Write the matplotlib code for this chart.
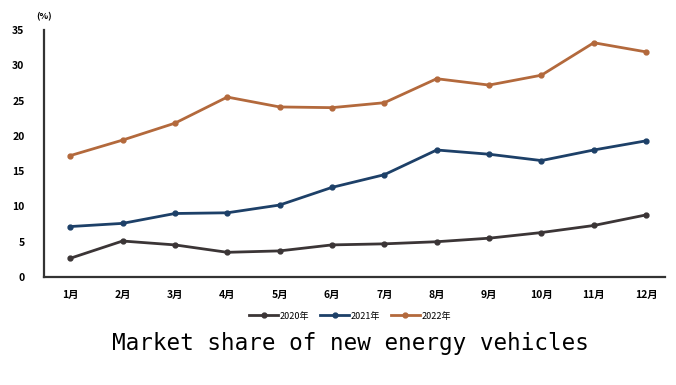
import matplotlib
matplotlib.use("Agg")
import matplotlib.pyplot as plt

plt.rcParams['font.family'] = ['Noto Sans CJK SC', 'DejaVu Sans']

#%% data
months = ["1月", "2月", "3月", "4月", "5月", "6月", "7月", "8月", "9月", "10月", "11月", "12月"]
share_2020 = [2.65, 5.1, 4.55, 3.5, 3.7, 4.55, 4.7, 5.0, 5.5, 6.3, 7.3, 8.8]
share_2021 = [7.15, 7.6, 9.0, 9.1, 10.2, 12.7, 14.5, 18.0, 17.4, 16.5, 18.0, 19.3]
share_2022 = [17.2, 19.4, 21.8, 25.5, 24.1, 24.0, 24.7, 28.1, 27.2, 28.6, 33.2, 31.9]
series_names = ["2020年", "2021年", "2022年"]
yticks = [0, 5, 10, 15, 20, 25, 30, 35]

#%% plot
fig = plt.figure(figsize=(6.76, 3.85), dpi=100)
ax = fig.add_axes([0.0651, 0.2805, 0.9186, 0.6415])

x = list(range(len(months)))
colors = ["#3b3536", "#1d4068", "#b3693c"]
for vals, name, c in zip([share_2020, share_2021, share_2022], series_names, colors):
    ax.plot(x, vals, color=c, lw=2, marker="o", ms=3.5, label=name)

ax.set_xlim(-0.5, 11.36)
ax.set_ylim(0, 35)
ax.set_yticks(yticks)
ax.set_xticks(x)
ax.set_xticklabels(months, fontsize=7.5, fontweight="bold")
ax.set_yticklabels([str(t) for t in yticks], fontsize=7.5, fontweight="bold")
ax.tick_params(length=0, pad=14, axis="y")
ax.tick_params(length=0, pad=9, axis="x")

for s in ["top", "right"]:
    ax.spines[s].set_visible(False)
ax.spines["left"].set_linewidth(1.6)
ax.spines["bottom"].set_linewidth(1.6)
ax.spines["left"].set_color("#333333")
ax.spines["bottom"].set_color("#333333")

ax.text(-0.5, 36.3, "(%)", fontsize=6.5, fontweight="bold", ha="center", va="bottom")

leg = ax.legend(loc="center", bbox_to_anchor=(0.493, -0.158), ncol=3, frameon=False,
                fontsize=6.5, handlelength=3.2, columnspacing=1.2, handletextpad=0.2)

fig.text(0.518, 0.108, "Market share of new energy vehicles", ha="center", va="center",
         fontsize=16.3, family="DejaVu Sans Mono")

fig.savefig("out.png", dpi=100)
